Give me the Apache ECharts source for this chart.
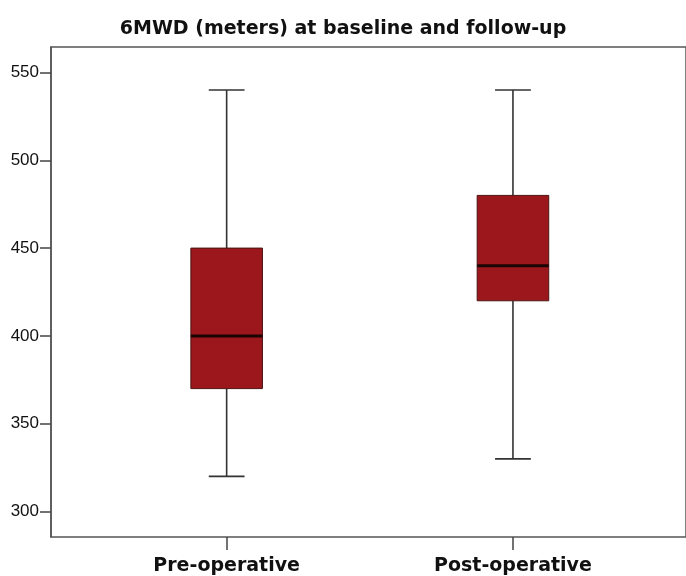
<!DOCTYPE html>
<html><head><meta charset="utf-8">
<script src="https://cdn.jsdelivr.net/npm/echarts@6/dist/echarts.min.js"></script>
<style>html,body{margin:0;padding:0;background:#fff}#c{width:686px;height:576px}</style>
</head><body><div id="c"></div>
<script>
const titleText = '6MWD (meters) at baseline and follow-up';
const categories = ['Pre-operative', 'Post-operative'];
const whiskerLow = [320, 330];
const q1 = [370, 420];
const median = [400, 440];
const q3 = [450, 480];
const whiskerHigh = [540, 540];
const yTicks = [300, 350, 400, 450, 500, 550];
const yMin = 285.5, yMax = 564.5;

const chart = echarts.init(document.getElementById('c'), null, {renderer: 'canvas'});
const boxData = categories.map((c, i) => [i, whiskerLow[i], q1[i], median[i], q3[i], whiskerHigh[i]]);

function renderBox(params, api) {
  const x = api.value(0);
  const pLow = api.coord([x, api.value(1)]);
  const pQ1 = api.coord([x, api.value(2)]);
  const pMed = api.coord([x, api.value(3)]);
  const pQ3 = api.coord([x, api.value(4)]);
  const pHigh = api.coord([x, api.value(5)]);
  const band = api.size([1, 0])[0];
  const bw = band * 0.25;
  const cw = bw / 2;
  const cx = pMed[0];
  const ws = {stroke: '#333', lineWidth: 1.6};
  return {type: 'group', children: [
    {type: 'line', shape: {x1: cx, y1: pHigh[1], x2: cx, y2: pQ3[1]}, style: ws},
    {type: 'line', shape: {x1: cx, y1: pQ1[1], x2: cx, y2: pLow[1]}, style: ws},
    {type: 'line', shape: {x1: cx - cw / 2, y1: pHigh[1], x2: cx + cw / 2, y2: pHigh[1]}, style: ws},
    {type: 'line', shape: {x1: cx - cw / 2, y1: pLow[1], x2: cx + cw / 2, y2: pLow[1]}, style: ws},
    {type: 'rect', shape: {x: cx - bw / 2, y: pQ3[1], width: bw, height: pQ1[1] - pQ3[1]},
      style: {fill: '#9c171b', stroke: '#4a1414', lineWidth: 1}},
    {type: 'line', shape: {x1: cx - bw / 2, y1: pMed[1], x2: cx + bw / 2, y2: pMed[1]},
      style: {stroke: '#1a0505', lineWidth: 3}}
  ]};
}

chart.setOption({
  backgroundColor: '#fff',
  animation: false,
  title: {
    text: titleText, left: 'center', top: 15,
    textStyle: {fontFamily: 'DejaVu Sans', fontWeight: 'bold', fontSize: 19, color: '#111'}
  },
  grid: [
    {left: 51, right: -10, top: 47, bottom: 39, show: true, borderColor: '#555', borderWidth: 1.5, backgroundColor: '#fff'},
    {left: 83.5, width: 572.6, top: 47, bottom: 39}
  ],
  xAxis: [
    {type: 'value', gridIndex: 0, show: false, min: 0, max: 1},
    {type: 'category', gridIndex: 1, data: categories,
      axisLine: {show: false},
      axisTick: {show: true, alignWithLabel: true, length: 13, lineStyle: {color: '#444', width: 1.5}},
      axisLabel: {margin: 20, fontFamily: 'DejaVu Sans', fontWeight: 'bold', fontSize: 19, color: '#111'}}
  ],
  yAxis: [
    {type: 'value', gridIndex: 0, min: yMin, max: yMax,
      axisLine: {show: true, lineStyle: {color: '#555', width: 1.5}},
      axisTick: {show: true, length: 11, customValues: yTicks, lineStyle: {color: '#444', width: 1.5}},
      axisLabel: {customValues: yTicks, margin: 12, fontFamily: 'Liberation Sans', fontSize: 17, color: '#111'},
      splitLine: {show: false}},
    {type: 'value', gridIndex: 1, min: yMin, max: yMax, show: false, splitLine: {show: false}}
  ],
  series: [{
    type: 'custom', xAxisIndex: 1, yAxisIndex: 1,
    renderItem: renderBox,
    encode: {x: 0, y: [1, 2, 3, 4, 5]},
    data: boxData
  }]
});
</script></body></html>
